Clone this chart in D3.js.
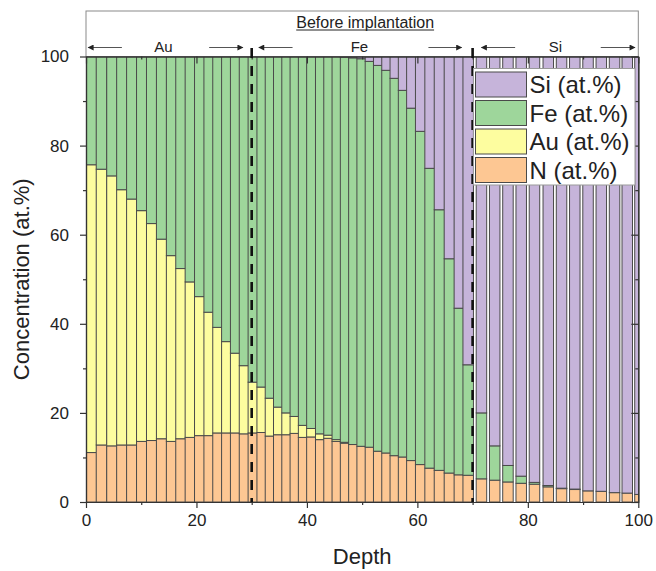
<!DOCTYPE html>
<html>
<head>
<meta charset="utf-8">
<script src="https://cdn.jsdelivr.net/npm/d3@7/dist/d3.min.js"></script>
<style>
body { margin: 0; background: #fff; }
text { font-family: "Liberation Sans", Arial, sans-serif; fill: #222; }
</style>
</head>
<body>
<div id="chart"></div>
<script>
// depth position of each sputter step (bar centres)
var depth = [
  1.0, 2.8, 4.7, 6.5, 8.3, 10.1, 11.9, 13.7, 15.5, 17.2, 18.9, 20.6, 22.3, 23.9, 25.5, 27.1, 28.7,
  30.3, 31.9, 33.4, 34.9, 36.4, 37.9, 39.4, 40.9, 42.5, 44.0, 45.5, 47.0, 48.5, 50.0, 51.5, 53.0,
  54.5, 56.0, 57.5, 59.0, 60.6, 62.3, 64.0, 65.8, 67.6, 69.2,
  71.6, 74.0, 76.4, 78.8, 81.2, 83.7, 86.1, 88.5, 90.9, 93.3, 95.7, 98.0, 100.3
];

var nConc = [
  11.1, 12.8, 12.6, 12.8, 12.8, 13.6, 13.8, 14.2, 13.6, 14.2, 14.5, 14.9, 14.9, 15.5, 15.5, 15.5, 15.3,
  15.5, 15.6, 14.8, 15.1, 15.1, 15.4, 14.5, 14.6, 14.0, 14.3, 13.6, 13.2, 12.9, 12.5, 12.3, 11.4,
  11.0, 10.4, 10.1, 9.3, 8.4, 7.6, 7.1, 6.5, 6.1, 6.0,
  5.2, 4.9, 4.5, 4.2, 4.0, 3.4, 3.0, 2.8, 2.5, 2.4, 2.1, 2.0, 1.7
];

var auConc = [
  64.6, 61.9, 60.6, 57.3, 55.2, 51.8, 48.7, 44.8, 41.7, 38.2, 34.9, 31.2, 27.7, 23.7, 20.5, 17.9, 15.3,
  11.4, 10.2, 8.5, 6.2, 4.9, 3.8, 2.7, 1.9, 1.3, 0.7, 0.4, 0.2, 0, 0, 0, 0,
  0, 0, 0, 0, 0, 0, 0, 0, 0, 0,
  0, 0, 0, 0, 0, 0, 0, 0, 0, 0, 0, 0, 0
];

var feConc = [
  24.3, 25.3, 26.8, 29.9, 32.0, 34.6, 37.5, 41.0, 44.7, 47.6, 50.6, 53.9, 57.4, 60.8, 64.0, 66.6, 69.4,
  73.1, 74.2, 76.7, 78.7, 80.0, 80.8, 82.8, 83.5, 84.7, 85.0, 86.0, 86.5, 86.8, 87.0, 86.6, 86.6,
  85.9, 84.7, 82.3, 79.1, 74.8, 67.3, 58.5, 48.1, 37.4, 24.8,
  14.8, 7.7, 3.7, 1.6, 0.4, 0.3, 0.1, 0.1, 0, 0, 0, 0, 0
];

var siConc = [
  0, 0, 0, 0, 0, 0, 0, 0, 0, 0, 0, 0, 0, 0, 0, 0, 0,
  0, 0, 0, 0, 0, 0, 0, 0, 0, 0, 0, 0.1, 0.3, 0.5, 1.1, 2.0,
  3.1, 4.9, 7.6, 11.6, 16.8, 25.1, 34.4, 45.4, 56.5, 69.2,
  80.0, 87.4, 91.8, 94.2, 95.6, 96.3, 96.9, 97.1, 97.5, 97.6, 97.9, 98.0, 98.3
];

var keys = ["N", "Au", "Fe", "Si"];
var legendKeys = ["Si", "Fe", "Au", "N"];
var legendLabels = ["Si (at.%)", "Fe (at.%)", "Au (at.%)", "N (at.%)"];
var colors = { N: "#fdc793", Au: "#fdfd9f", Fe: "#9ed69b", Si: "#c6b4da" };

// layer boundaries and header annotations
var boundaries = [30, 70];
var regionNames = ["Au", "Fe", "Si"];
var regionLabelAt = [14, 49.5, 85];
var arrowsLeft = [[0.4, 6.5], [31.3, 37.4], [71.6, 77.7]];
var arrowsRight = [[22.3, 28.4], [62.0, 68.0], [93.2, 99.4]];

var xTicks = [0, 20, 40, 60, 80, 100];
var xMinor = [10, 30, 50, 70, 90];
var yTicks = [0, 20, 40, 60, 80, 100];
var yMinor = [10, 30, 50, 70, 90];

var width = 656, height = 571;
var plotL = 86, plotR = 638.3, plotT = 56.5, plotB = 502;
var barWidth = 1.9;

var rows = depth.map(function (d, i) {
  return { depth: d, N: nConc[i], Au: auConc[i], Fe: feConc[i], Si: siConc[i] };
});
var series = d3.stack().keys(keys)(rows);

var xscale = d3.scaleLinear().domain([0, 100]).range([plotL, plotR]);
var yscale = d3.scaleLinear().domain([0, 100]).range([plotB, plotT]);

var svg = d3.select("#chart").append("svg")
  .attr("width", width)
  .attr("height", height);

var defs = svg.append("defs");
defs.append("clipPath").attr("id", "plotclip")
  .append("rect")
  .attr("x", plotL).attr("y", plotT)
  .attr("width", plotR - plotL).attr("height", plotB - plotT);

// one group per step so later bars sit on top of earlier ones
var bars = svg.append("g").attr("clip-path", "url(#plotclip)")
  .selectAll("g.bar")
  .data(rows)
  .enter().append("g")
  .attr("class", "bar");

bars.selectAll("rect")
  .data(function (d, i) {
    return series.map(function (s) {
      return { key: s.key, depth: d.depth, y0: s[i][0], y1: s[i][1] };
    }).filter(function (s) { return s.y1 - s.y0 > 0; });
  })
  .enter().append("rect")
  .attr("x", function (d) { return xscale(d.depth - barWidth / 2); })
  .attr("width", xscale(barWidth) - xscale(0))
  .attr("y", function (d) { return yscale(d.y1); })
  .attr("height", function (d) { return yscale(d.y0) - yscale(d.y1); })
  .attr("fill", function (d) { return colors[d.key]; })
  .attr("stroke", "#4a4a4a")
  .attr("stroke-width", 1);

// header box
svg.append("rect")
  .attr("x", plotL).attr("y", 11)
  .attr("width", plotR - plotL).attr("height", plotT - 11)
  .attr("fill", "none").attr("stroke", "#8a8a8a");

var cx = (plotL + plotR) / 2 + 3;
var title = svg.append("text")
  .attr("x", cx)
  .attr("y", 27.5)
  .attr("text-anchor", "middle")
  .style("font-size", "16px")
  .text("Before implantation");
var tw = title.node().getComputedTextLength();
svg.append("line")
  .attr("x1", cx - tw / 2).attr("x2", cx + tw / 2)
  .attr("y1", 30).attr("y2", 30)
  .attr("stroke", "#222").attr("stroke-width", 1);

defs.append("marker")
  .attr("id", "head")
  .attr("viewBox", "0 0 10 10")
  .attr("refX", 9).attr("refY", 5)
  .attr("markerWidth", 9).attr("markerHeight", 6)
  .attr("markerUnits", "userSpaceOnUse")
  .attr("orient", "auto")
  .append("path").attr("d", "M0,0 L10,5 L0,10 Z").attr("fill", "#222");

svg.selectAll("line.arrowL")
  .data(arrowsLeft).enter().append("line")
  .attr("x1", function (d) { return xscale(d[1]); })
  .attr("x2", function (d) { return xscale(d[0]); })
  .attr("y1", 47.5).attr("y2", 47.5)
  .attr("stroke", "#555").attr("stroke-width", 1)
  .attr("marker-end", "url(#head)");

svg.selectAll("line.arrowR")
  .data(arrowsRight).enter().append("line")
  .attr("x1", function (d) { return xscale(d[0]); })
  .attr("x2", function (d) { return xscale(d[1]); })
  .attr("y1", 47.5).attr("y2", 47.5)
  .attr("stroke", "#555").attr("stroke-width", 1)
  .attr("marker-end", "url(#head)");

svg.selectAll("text.region")
  .data(regionNames).enter().append("text")
  .attr("x", function (d, i) { return xscale(regionLabelAt[i]); })
  .attr("y", 51.5)
  .attr("text-anchor", "middle")
  .style("font-size", "15px")
  .text(function (d) { return d; });

// axes
function styleAxis(g) {
  g.selectAll("path").attr("stroke", "#333").attr("stroke-width", 1.2);
  g.selectAll("line").attr("stroke", "#333").attr("stroke-width", 1.2);
  g.selectAll("text").style("font-size", "17px").attr("fill", "#222");
}

svg.append("g").attr("transform", "translate(0," + plotB + ")")
  .call(d3.axisBottom(xscale).tickValues(xTicks).tickSize(6).tickSizeOuter(0).tickPadding(6))
  .call(styleAxis);
svg.append("g").attr("transform", "translate(0," + plotB + ")")
  .call(d3.axisBottom(xscale).tickValues(xMinor).tickSize(3).tickSizeOuter(0).tickFormat(""))
  .call(styleAxis);
svg.append("g").attr("transform", "translate(" + plotL + ",0)")
  .call(d3.axisLeft(yscale).tickValues(yTicks).tickSize(6).tickSizeOuter(0).tickPadding(11))
  .call(styleAxis);
svg.append("g").attr("transform", "translate(" + plotL + ",0)")
  .call(d3.axisLeft(yscale).tickValues(yMinor).tickSize(3).tickSizeOuter(0).tickFormat(""))
  .call(styleAxis);

// inward ticks on top and right
svg.append("g").attr("transform", "translate(0," + plotT + ")")
  .call(d3.axisTop(xscale).tickValues(xTicks).tickSize(-7).tickSizeOuter(0).tickFormat(""))
  .call(styleAxis);
svg.append("g").attr("transform", "translate(0," + plotT + ")")
  .call(d3.axisTop(xscale).tickValues(xMinor).tickSize(-3).tickSizeOuter(0).tickFormat(""))
  .call(styleAxis);
svg.append("g").attr("transform", "translate(" + plotR + ",0)")
  .call(d3.axisRight(yscale).tickValues(yTicks).tickSize(-7).tickSizeOuter(0).tickFormat(""))
  .call(styleAxis);
svg.append("g").attr("transform", "translate(" + plotR + ",0)")
  .call(d3.axisRight(yscale).tickValues(yMinor).tickSize(-3).tickSizeOuter(0).tickFormat(""))
  .call(styleAxis);

// dashed layer boundaries
svg.selectAll("line.boundary")
  .data(boundaries).enter().append("line")
  .attr("x1", function (d) { return xscale(d); })
  .attr("x2", function (d) { return xscale(d); })
  .attr("y1", 48).attr("y2", plotB)
  .attr("stroke", "#111").attr("stroke-width", 2.6)
  .attr("stroke-dasharray", "10,8");

// legend
var legend = svg.append("g");
legend.append("rect")
  .attr("x", 473.5).attr("y", 68.5)
  .attr("width", 161.5).attr("height", 116.5)
  .attr("fill", "#fff").attr("stroke", "#999");
var items = legend.selectAll("g.item")
  .data(legendKeys).enter().append("g")
  .attr("transform", function (d, i) { return "translate(475.5," + (72 + i * 28.5) + ")"; });
items.append("rect")
  .attr("width", 51).attr("height", 25)
  .attr("fill", function (d) { return colors[d]; })
  .attr("stroke", "#4a4a4a");
items.append("text")
  .attr("x", 54).attr("y", 21)
  .style("font-size", "24px")
  .text(function (d, i) { return legendLabels[i]; });

// axis titles
svg.append("text")
  .attr("x", (plotL + plotR) / 2)
  .attr("y", 564)
  .attr("text-anchor", "middle")
  .style("font-size", "22px")
  .text("Depth");

svg.append("text")
  .attr("transform", "translate(29," + (plotT + plotB) / 2 + ") rotate(-90)")
  .attr("text-anchor", "middle")
  .style("font-size", "22px")
  .text("Concentration (at.%)");
</script>
</body>
</html>
